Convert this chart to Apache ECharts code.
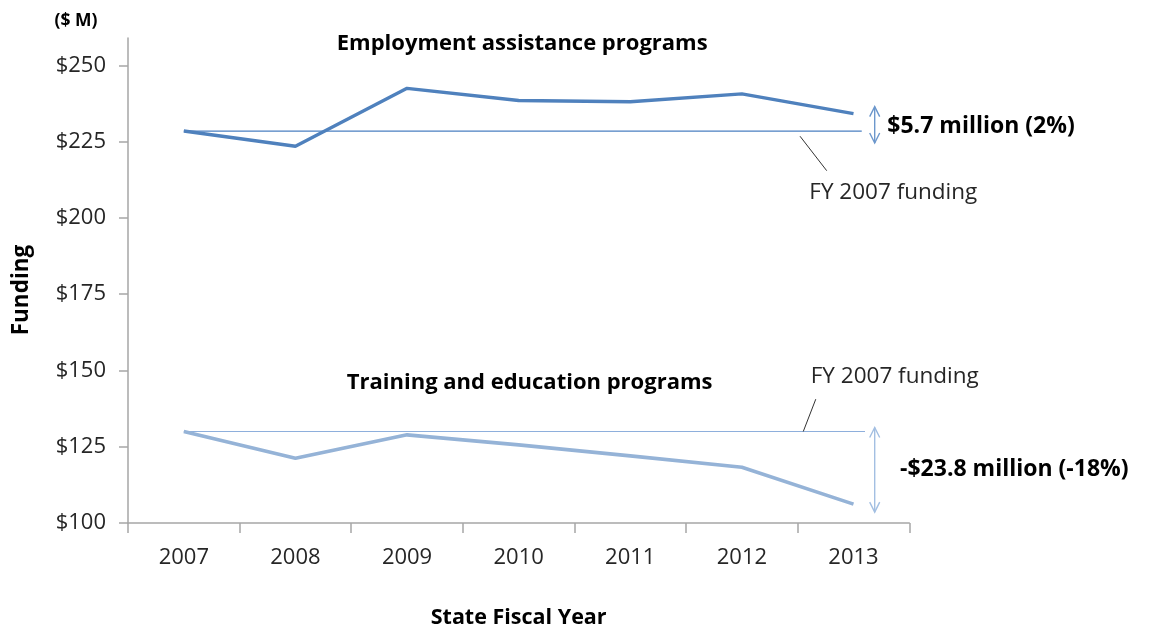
<!DOCTYPE html>
<html>
<head>
<meta charset="utf-8">
<script src="https://cdn.jsdelivr.net/npm/echarts@6/dist/echarts.min.js"></script>
<style>
  html, body { margin: 0; padding: 0; background: #ffffff; }
  #chart { width: 1150px; height: 627px; }
</style>
</head>
<body>
<div id="chart"></div>
<script>
// State fiscal years
const years = ['2007', '2008', '2009', '2010', '2011', '2012', '2013'];
// Funding in $ millions
const employment = [228.5, 223.5, 242.5, 238.5, 238.1, 240.7, 234.2];
const training = [130.0, 121.2, 128.9, 125.6, 122.0, 118.3, 106.2];
// Y axis tick values
const yTicks = [100, 125, 150, 175, 200, 225, 250];
// Annotation texts
const groupTitles = ['Employment assistance programs', 'Training and education programs'];
const changeLabels = ['$5.7 million (2%)', '-$23.8 million (-18%)'];
const baselineLabel = 'FY 2007 funding';

const FONT = '"Open Sans", "Noto Sans", sans-serif';
const DARK_BLUE = '#4F81BD';
const LIGHT_BLUE = '#95B3D7';

const chart = echarts.init(document.getElementById('chart'), null, { renderer: 'canvas' });

const first = (a) => a[0];
const last = (a) => a[a.length - 1];

// Position along the category axis on a continuous scale (index units)
const baseEnd = [6.074, 6.103];
const arrowX = 6.19;

// Double-headed arrow between FY2007 level and final-year level
function renderArrow(params, api) {
  const x = api.value(0);
  const hi = Math.max(api.value(1), api.value(2));
  const lo = Math.min(api.value(1), api.value(2));
  const isTop = api.value(3) === 0;
  const color = isTop ? '#6C97CC' : '#A3BFE2';
  const padTop = isTop ? 7 : 4;
  const padBot = isTop ? 12 : 8;
  const pTop = api.coord([x, hi]);
  const pBot = api.coord([x, lo]);
  const px = pTop[0];
  const yt = pTop[1] - padTop;
  const yb = pBot[1] + padBot;
  const style = { stroke: color, lineWidth: 1.4, fill: null };
  return {
    type: 'group',
    children: [
      { type: 'line', shape: { x1: px, y1: yt, x2: px, y2: yb }, style },
      { type: 'polyline', shape: { points: [[px - 5, yt + 10], [px, yt], [px + 5, yt + 10]] }, style },
      { type: 'polyline', shape: { points: [[px - 5, yb - 10], [px, yb], [px + 5, yb - 10]] }, style }
    ]
  };
}

// Short leader line from baseline to its label
function renderLeader(params, api) {
  const a = api.coord([api.value(0), api.value(1)]);
  const b = api.coord([api.value(2), api.value(3)]);
  return {
    type: 'line',
    shape: { x1: a[0], y1: a[1], x2: b[0], y2: b[1] },
    style: { stroke: '#333333', lineWidth: 1 }
  };
}

// Text placed in data coordinates (left-aligned, vertically centred)
function renderText(params, api) {
  const p = api.coord([api.value(0), api.value(1)]);
  const item = textItems[params.dataIndex];
  return {
    type: 'text',
    x: p[0],
    y: p[1],
    style: {
      text: item.text,
      fill: item.bold ? '#000000' : '#262626',
      font: (item.bold ? 'bold ' : '') + item.size + 'px ' + FONT,
      align: 'left',
      verticalAlign: 'middle'
    }
  };
}

const textItems = [
  { pos: [1.37, 257.0], text: groupTitles[0], bold: true, size: 22 },
  { pos: [1.46, 145.9], text: groupTitles[1], bold: true, size: 22 },
  { pos: [5.604, 208.3], text: baselineLabel, bold: false, size: 22.5 },
  { pos: [5.617, 148.0], text: baselineLabel, bold: false, size: 22.5 },
  { pos: [6.303, 230.1], text: changeLabels[0], bold: true, size: 23 },
  { pos: [6.417, 117.4], text: changeLabels[1], bold: true, size: 23 }
];

const option = {
  animation: false,
  backgroundColor: '#ffffff',
  textStyle: { fontFamily: FONT },
  grid: {
    left: 128, right: 240.7, top: 38, bottom: 104,
    containLabel: false,
    outerBoundsMode: 'none'
  },
  graphic: [
    {
      type: 'text', x: 76, y: 21,
      style: { text: '($ M)', font: 'bold 17.5px ' + FONT, fill: '#000', align: 'center', verticalAlign: 'middle' }
    },
    {
      type: 'text', x: 22, y: 290, rotation: Math.PI / 2,
      style: { text: 'Funding', font: 'bold 22.5px ' + FONT, fill: '#000', align: 'center', verticalAlign: 'middle' }
    }
  ],
  xAxis: [
    {
      type: 'category',
      data: years,
      boundaryGap: true,
      axisLine: { onZero: false, lineStyle: { color: '#A6A6A6', width: 1.5 } },
      axisTick: { show: true, length: 10, lineStyle: { color: '#A6A6A6', width: 1.5 } },
      axisLabel: { color: '#262626', fontSize: 22, fontFamily: FONT, margin: 24 },
      name: 'State Fiscal Year',
      nameLocation: 'middle',
      nameGap: 84,
      nameTextStyle: { color: '#000', fontSize: 21.5, fontWeight: 'bold', fontFamily: FONT },
      splitLine: { show: false }
    },
    {
      type: 'value',
      min: -0.5,
      max: 6.5,
      show: false
    }
  ],
  yAxis: {
    type: 'value',
    min: 100,
    max: 259,
    interval: 25,
    axisLine: { show: true, onZero: false, lineStyle: { color: '#A6A6A6', width: 1.5 } },
    axisTick: { show: true, length: 9, customValues: yTicks, lineStyle: { color: '#A6A6A6', width: 1.5 } },
    axisLabel: {
      customValues: yTicks,
      formatter: (v) => '$' + v,
      color: '#262626', fontSize: 22, fontFamily: FONT, margin: 22
    },
    splitLine: { show: false }
  },
  series: [
    {
      name: 'Employment baseline',
      type: 'line',
      xAxisIndex: 1,
      data: [[0, first(employment)], [baseEnd[0], first(employment)]],
      symbol: 'none',
      lineStyle: { color: '#4A7FC1', width: 1.2 },
      z: 2
    },
    {
      name: 'Training baseline',
      type: 'line',
      xAxisIndex: 1,
      data: [[0, first(training)], [baseEnd[1], first(training)]],
      symbol: 'none',
      lineStyle: { color: '#8EAFDC', width: 1.2 },
      z: 2
    },
    {
      name: 'Employment assistance programs',
      type: 'line',
      data: employment,
      symbol: 'none',
      lineStyle: { color: DARK_BLUE, width: 3.4 },
      z: 3
    },
    {
      name: 'Training and education programs',
      type: 'line',
      data: training,
      symbol: 'none',
      lineStyle: { color: LIGHT_BLUE, width: 3.6 },
      z: 3
    },
    {
      type: 'custom',
      xAxisIndex: 1,
      renderItem: renderArrow,
      data: [
        [arrowX, first(employment), last(employment), 0],
        [arrowX, first(training), last(training), 1]
      ],
      silent: true,
      z: 4
    },
    {
      type: 'custom',
      xAxisIndex: 1,
      renderItem: renderLeader,
      data: [
        [5.521, 226.8, 5.76, 215.5],
        [5.55, first(training), 5.662, 140.6]
      ],
      silent: true,
      z: 4
    },
    {
      type: 'custom',
      xAxisIndex: 1,
      renderItem: renderText,
      data: textItems.map((t) => t.pos),
      silent: true,
      clip: false,
      z: 5
    }
  ]
};

chart.setOption(option);
</script>
</body>
</html>
